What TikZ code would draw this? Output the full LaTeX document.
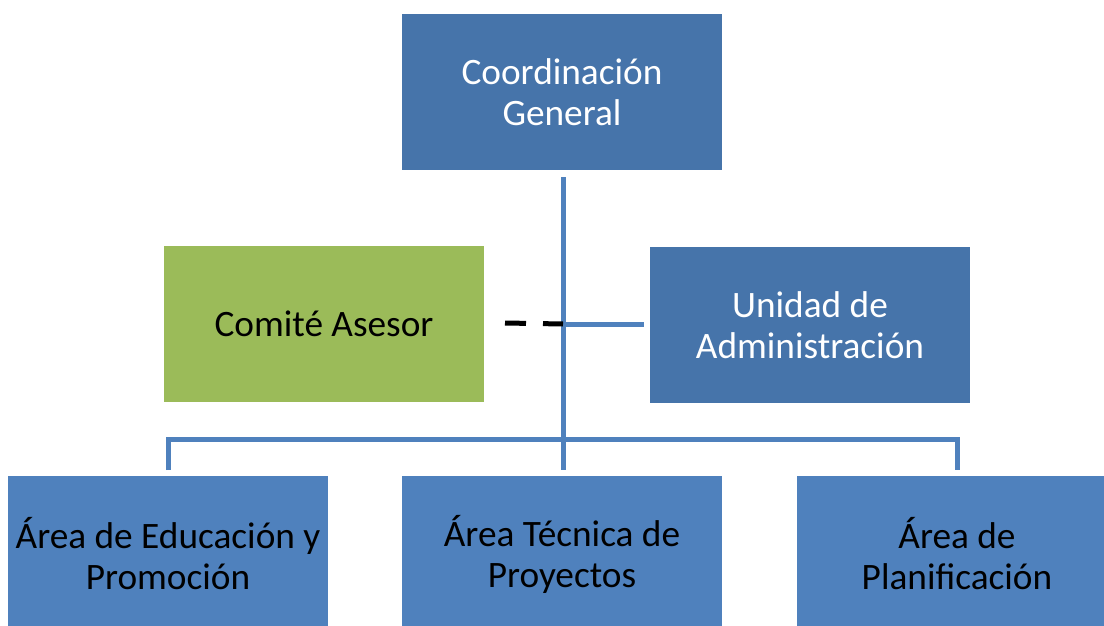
\documentclass[tikz,border=0pt]{standalone}
\usepackage{fontspec}
\setmainfont{Carlito}
\definecolor{darkbox}{HTML}{4674AA}
\definecolor{lightbox}{HTML}{4F81BD}
\definecolor{greenbox}{HTML}{9BBB59}
\definecolor{linecol}{HTML}{4F81BD}
\begin{document}
\begin{tikzpicture}[x=1pt,y=-1pt,
  box/.style={rectangle, inner sep=0pt, minimum width=320pt, minimum height=156pt, align=center,
    font=\fontsize{37.3}{41}\selectfont},
  topbox/.style={box, fill=darkbox, text=white},
  botbox/.style={box, fill=lightbox, text=black},
  greenb/.style={box, fill=greenbox, text=black},
  conn/.style={draw=linecol, line width=5pt},
  dashconn/.style={draw=black, line width=5pt, dash pattern=on 21pt off 17pt}]
\useasboundingbox (0,0) rectangle (1104,626);
\clip (0,0) rectangle (1104,626);
\node[topbox] (cg) at (562,92) {Coordinación\\General};
\node[greenb] (ca) at (324,323.5) {Comité Asesor};
\node[topbox] (ua) at (810,325) {Unidad de\\Administración};
\node[botbox] (ae) at (168,554) {Área de Educación y\\Promoción};
\node[botbox] (at) at (562,554) {Área Técnica de\\Proyectos};
\node[botbox] (ap) at (957,554) {Área de\\Planificación};
\coordinate (vtop) at (563,177);
\coordinate (vbot) at (563,470);
\coordinate (mid) at (563,324);
\coordinate (bl) at (168,439);
\coordinate (br) at (957,439);
\coordinate (uaend) at (644,324);
\coordinate (dstart) at (505,323);
\draw[conn] (vtop) -- (vbot);
\draw[conn] (mid) -- (uaend);
\draw[conn] (168,470) -- (bl) -- (br) -- (957,470);
\draw[dashconn] (dstart) -- (mid);
\end{tikzpicture}
\end{document}
